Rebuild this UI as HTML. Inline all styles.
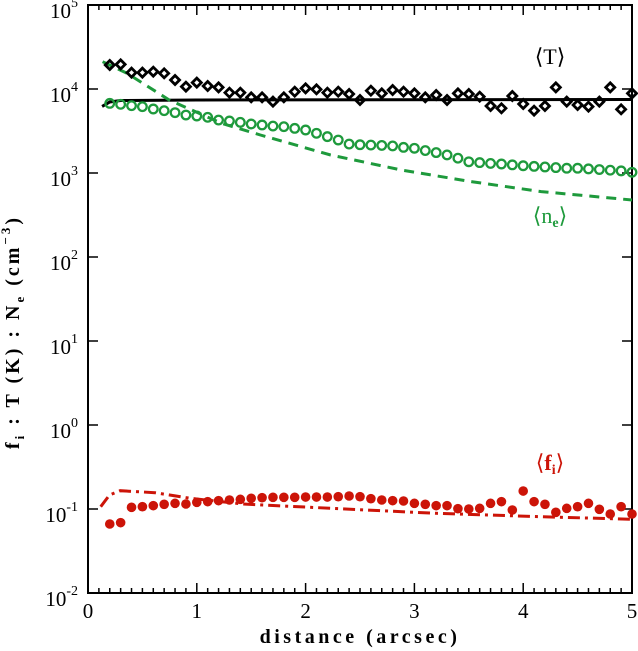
<!DOCTYPE html>
<html><head><meta charset="utf-8">
<style>
html,body{margin:0;padding:0;background:#fff;}
svg{display:block;}
text{font-family:"Liberation Serif",serif;}
</style></head>
<body>
<svg id="chart" width="638" height="651" viewBox="0 0 638 651" xmlns="http://www.w3.org/2000/svg"></svg>
<script>
const xPos = [0.2,0.3,0.4,0.5,0.6,0.7,0.8,0.9,1.0,1.1,1.2,1.3,1.4,1.5,1.6,1.7,1.8,1.9,2.0,2.1,2.2,2.3,2.4,2.5,2.6,2.7,2.8,2.9,3.0,3.1,3.2,3.3,3.4,3.5,3.6,3.7,3.8,3.9,4.0,4.1,4.2,4.3,4.4,4.5,4.6,4.7,4.8,4.9,5.0];
const tempValues = [19310,19660,15650,15650,16080,15370,12800,10660,11900,10850,10460,9040,9040,7960,7960,7070,7960,9290,10180,9910,9040,9290,8720,7400,9550,8880,9730,9290,8880,7960,8480,7400,8880,8720,8100,6280,5890,8250,6630,5520,6280,10460,7070,6450,6160,7070,10460,5730,8880];
const densValues = [6750,6570,6330,6160,5780,5520,5230,4900,4770,4600,4270,4160,4010,3830,3730,3620,3560,3400,3250,2970,2710,2470,2210,2170,2150,2130,2100,2020,1970,1850,1750,1640,1500,1360,1330,1300,1280,1250,1220,1200,1180,1160,1140,1140,1120,1100,1080,1060,1020];
const fiValues = [0.0663,0.0688,0.1047,0.1066,0.1096,0.1137,0.1168,0.1147,0.1201,0.1223,0.1257,0.1280,0.1303,0.1340,0.1364,0.1377,0.1377,0.1377,0.1389,0.1389,0.1389,0.1402,0.1428,0.1402,0.1327,0.1280,0.1257,0.1245,0.1168,0.1137,0.1096,0.1096,0.1009,0.1000,0.1018,0.1168,0.1223,0.0973,0.1637,0.1223,0.1137,0.0913,0.1018,0.1066,0.1168,0.0991,0.0872,0.1066,0.0872];
const tempModelX = [0.13,0.2,0.3,1.0,5.0];
const tempModelY = [6200,7000,7300,7400,7500];
const densModelX = [0.134,0.359,0.746,1.23,1.585,2.23,2.875,3.52,4.165,5.0];
const densModelY = [21150,15370,7400,3900,2830,1640,1090,789,600,477];
const fiModelX = [0.117,0.198,0.295,0.617,0.94,1.424,2.23,3.197,4.164,5.0];
const fiModelY = [0.1066,0.1468,0.1653,0.1564,0.134,0.1147,0.1018,0.0888,0.081,0.0753];
const yTickExp = [5,4,3,2,1,0,-1,-2];
const xTickLabels = [0,1,2,3,4,5];

const NS="http://www.w3.org/2000/svg";
const svg=document.getElementById('chart');
const X0=88,X1=632,Y0=593,Y1=5;
function xs(v){return X0+(v/5)*(X1-X0);}
function ys(v){return Y0-(Math.log10(v)+2)/7*(Y0-Y1);}
function el(tag,attrs,parent){const e=document.createElementNS(NS,tag);for(const k in attrs)e.setAttribute(k,attrs[k]);(parent||svg).appendChild(e);return e;}

const GREEN="#1e9a3c",RED="#cc1408";

const frame=el('rect',{x:X0,y:Y1,width:X1-X0,height:Y0-Y1,fill:'none',stroke:'#000','stroke-width':2});



for(let i=0;i<=50;i++){
  const v=i/10,x=xs(v),len=(i%10===0)?10:5;
  el('line',{x1:x,y1:Y0,x2:x,y2:Y0-len,stroke:'#000','stroke-width':1.5});
  el('line',{x1:x,y1:Y1,x2:x,y2:Y1+len,stroke:'#000','stroke-width':1.5});
}
xTickLabels.forEach(v=>{
  const t=el('text',{x:xs(v),y:618,'text-anchor':'middle','font-size':21});
  t.textContent=v;
  
  
});
yTickExp.forEach(e=>{
  const y=ys(Math.pow(10,e));
  el('line',{x1:X0,y1:y,x2:X0+10,y2:y,stroke:'#000','stroke-width':1.5});
  el('line',{x1:X1,y1:y,x2:X1-10,y2:y,stroke:'#000','stroke-width':1.5});
  const t=el('text',{x:78,y:y+13,'text-anchor':'end','font-size':21});
  t.innerHTML='10<tspan dy="-11" font-size="14">'+e+'</tspan>';
  
  
});

const xt=el('text',{x:360,y:643,'text-anchor':'middle','font-size':20,'font-weight':'bold','letter-spacing':'3.5'});
xt.textContent='distance (arcsec)';


const yt=el('text',{transform:'translate(19,332) rotate(-90)','text-anchor':'middle','font-size':20,'font-weight':'bold','letter-spacing':'3'});
yt.innerHTML='f<tspan dy="5" font-size="13">i</tspan><tspan dy="-5"> : T (K) : N</tspan><tspan dy="5" font-size="13">e</tspan><tspan dy="-5"> (cm</tspan><tspan dy="-9" font-size="13">−3</tspan><tspan dy="9">)</tspan>';



function path(xa,ya,color,dash,name){
  const d=xa.map((x,i)=>(i?'L':'M')+xs(x).toFixed(1)+','+ys(ya[i]).toFixed(1)).join(' ');
  const p=el('path',{d:d,fill:'none',stroke:color,'stroke-width':3});
  if(dash)p.setAttribute('stroke-dasharray',dash);
  
  
}
path(tempModelX,tempModelY,'#000',null,'temperature-model-line');
path(densModelX,densModelY,GREEN,'10,7','density-model-line');
path(fiModelX,fiModelY,RED,'12,5,3,5','filling-factor-model-line');

xPos.forEach((x,i)=>{
  const cx=xs(x),cy=ys(tempValues[i]);
  const d=el('path',{d:`M${cx-4.5},${cy} L${cx},${cy-4.5} L${cx+4.5},${cy} L${cx},${cy+4.5} Z`,fill:'none',stroke:'#000','stroke-width':2.8});
  
  
  const c=el('circle',{cx:cx,cy:ys(densValues[i]),r:4.3,fill:'none',stroke:GREEN,'stroke-width':2.3});
  
  
  const f=el('circle',{cx:cx,cy:ys(fiValues[i]),r:4.8,fill:RED});
  
  
});

function label(x,y,html,color,name){
  const t=el('text',{x:x,y:y,'text-anchor':'middle','font-size':22,fill:color});
  t.innerHTML=html;
  
  
}
label(550,64,'⟨T⟩','#000','temperature-label');
label(550,223,'⟨n<tspan dy="4" font-size="14" font-weight="bold">e</tspan><tspan dy="-4">⟩</tspan>',GREEN,'density-label');
label(550,470,'⟨<tspan font-weight="bold">f</tspan><tspan dy="4" font-size="14" font-weight="bold">i</tspan><tspan dy="-4">⟩</tspan>',RED,'filling-factor-label');
</script>
</body></html>
